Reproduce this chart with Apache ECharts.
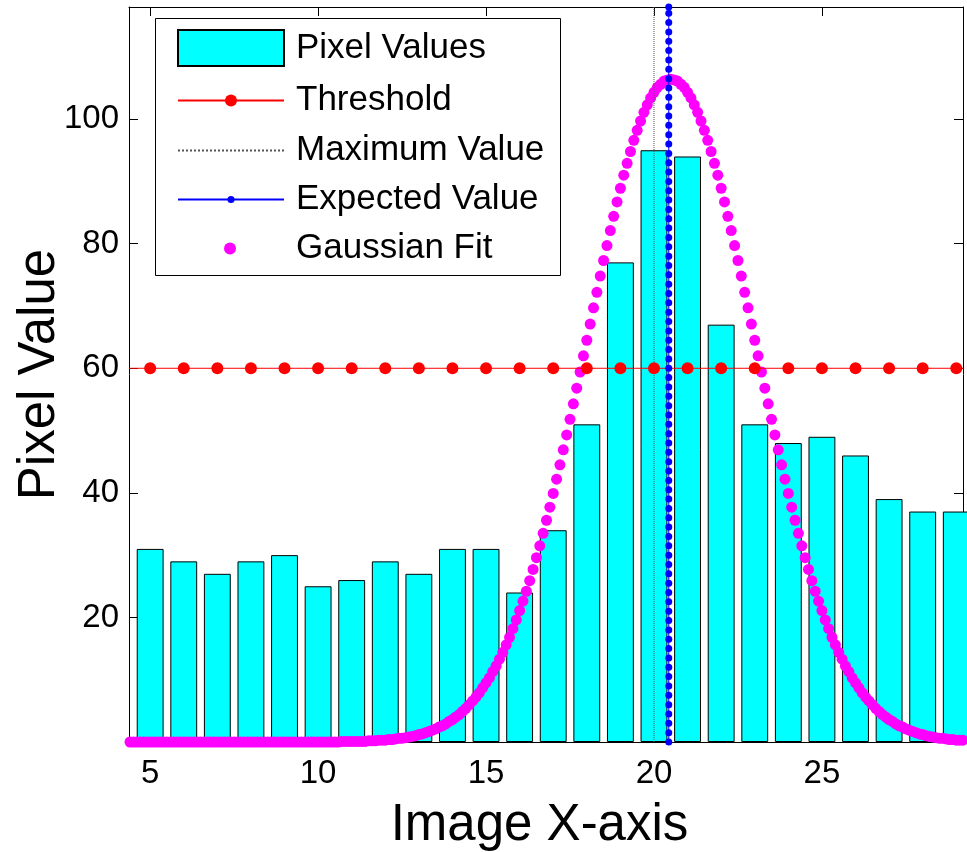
<!DOCTYPE html>
<html>
<head>
<meta charset="utf-8">
<title>Pixel Value profile</title>
<script src="https://cdn.jsdelivr.net/npm/echarts@6/dist/echarts.min.js"></script>
<style>
  html, body { margin: 0; padding: 0; background: #fff; }
  #chart { width: 967px; height: 852px; }
</style>
</head>
<body>
<div id="chart"></div>
<script>
// image columns and their pixel values (bars)
const xCategories = [5, 6, 7, 8, 9, 10, 11, 12, 13, 14, 15, 16, 17, 18, 19, 20, 21, 22, 23, 24, 25, 26, 27, 28, 29];
const pixelValues = [31, 29, 27, 29, 30, 25, 26, 29, 27, 31, 31, 24, 34, 51, 77, 95, 94, 67, 51, 48, 49, 46, 39, 37, 37];

// threshold level, maximum / expected value columns
const thresholdValue = 60;
const maxValueX = 20;
const expectedValueX = 20.44;
const expectedValueY = [0, 1.5, 3, 4.5, 6, 7.5, 9, 10.5, 12, 13.5, 15, 16.5, 18, 19.5, 21, 22.5, 24, 25.5, 27, 28.5,
  30, 31.5, 33, 34.5, 36, 37.5, 39, 40.5, 42, 43.5, 45, 46.5, 48, 49.5, 51, 52.5, 54, 55.5, 57, 58.5,
  60, 61.5, 63, 64.5, 66, 67.5, 69, 70.5, 72, 73.5, 75, 76.5, 78, 79.5, 81, 82.5, 84, 85.5, 87, 88.5,
  90, 91.5, 93, 94.5, 96, 97.5, 99, 100.5, 102, 103.5, 105, 106.5, 108, 109.5, 111, 112.5, 114, 115.5, 117, 118];

// gaussian fit samples, x = 4.4 .. 29.2 step 0.1
const gaussStartX = 4.4;
const gaussStepX = 0.1;
const gaussianFit = [
  0, 0, 0, 0, 0, 0, 0, 0, 0, 0, 0, 0, 0, 0, 0, 0, 0, 0, 0, 0, 0,
  0, 0, 0, 0, 0, 0, 0, 0, 0, 0, 0, 0, 0, 0, 0, 0, 0, 0, 0, 0, 0,
  0, 0, 0, 0, 0, 0, 0, 0, 0, 0, 0, 0, 0, 0, 0, 0, 0, 0, 0, 0, 0,
  0.1, 0.1, 0.1,
  0.1, 0.1, 0.1, 0.1, 0.1, 0.2, 0.2, 0.2, 0.3, 0.3,
  0.3, 0.4, 0.4, 0.5, 0.6, 0.6, 0.7, 0.8, 0.9, 1.0,
  1.2, 1.3, 1.5, 1.7, 1.9, 2.1, 2.4, 2.6, 2.9, 3.3,
  3.6, 4.0, 4.4, 4.9, 5.4, 6.0, 6.6, 7.2, 7.9, 8.7,
  9.5, 10.3, 11.3, 12.2, 13.3, 14.4, 15.6, 16.8, 18.2, 19.6,
  21.1, 22.6, 24.2, 25.9, 27.7, 29.6, 31.5, 33.5, 35.6, 37.7,
  39.9, 42.2, 44.5, 46.9, 49.3, 51.8, 54.3, 56.8, 59.4, 62.0,
  64.5, 67.1, 69.7, 72.2, 74.8, 77.3, 79.7, 82.1, 84.4, 86.7,
  88.9, 91.0, 92.9, 94.8, 96.6, 98.2, 99.7, 101.1, 102.3, 103.4,
  104.3, 105.1, 105.6, 106.1, 106.3, 106.4, 106.3, 106.1, 105.6, 105.1,
  104.3, 103.4, 102.3, 101.1, 99.7, 98.2, 96.6, 94.8, 92.9, 91.0,
  88.9, 86.7, 84.4, 82.1, 79.7, 77.3, 74.8, 72.2, 69.7, 67.1,
  64.5, 62.0, 59.4, 56.8, 54.3, 51.8, 49.3, 46.9, 44.5, 42.2,
  39.9, 37.7, 35.6, 33.5, 31.5, 29.6, 27.7, 25.9, 24.2, 22.6,
  21.1, 19.6, 18.2, 16.8, 15.6, 14.4, 13.3, 12.2, 11.3, 10.3,
  9.5, 8.7, 7.9, 7.2, 6.6, 6.0, 5.4, 4.9, 4.4, 4.0,
  3.6, 3.3, 2.9, 2.6, 2.4, 2.1, 1.9, 1.7, 1.5, 1.3,
  1.2, 1.0, 0.9, 0.8, 0.7, 0.6, 0.6, 0.5, 0.4, 0.4,
  0.3, 0.3, 0.3
];

// axes
const xRange = [4.37, 29.2];
const yRange = [0, 118];
const xTicks = [5, 10, 15, 20, 25];
const yTicks = [20, 40, 60, 80, 100];

const FONT = '"Liberation Sans", Arial, sans-serif';

const chart = echarts.init(document.getElementById('chart'));

const axisLine = { show: true, onZero: false, lineStyle: { color: '#000', width: 1 } };

// one legend component per row so every row gets its own icon size
function legendRow(item, left, top, itemWidth, itemHeight, textPad, extra) {
  return Object.assign({
    data: [item],
    left: left,
    top: top,
    orient: 'vertical',
    padding: 0,
    itemWidth: itemWidth,
    itemHeight: itemHeight,
    selectedMode: false,
    textStyle: { fontSize: 35, fontFamily: FONT, color: '#000', padding: [0, 0, 0, textPad] }
  }, extra || {});
}

const option = {
  animation: false,
  backgroundColor: '#fff',
  grid: { left: 129, right: 4, top: 7, bottom: 110, containLabel: false, outerBoundsMode: 'none' },
  xAxis: [
    {
      type: 'value',
      position: 'bottom',
      min: xRange[0],
      max: xRange[1],
      axisLine: axisLine,
      axisTick: { show: true, inside: true, length: 9, customValues: xTicks, lineStyle: { color: '#000' } },
      axisLabel: { customValues: xTicks, fontSize: 33, fontFamily: FONT, color: '#000', margin: 15 },
      splitLine: { show: false },
      name: 'Image X-axis',
      nameLocation: 'middle',
      nameGap: 58,
      nameMoveOverlap: false,
      nameTextStyle: { fontSize: 51, fontFamily: FONT, color: '#000', padding: [0, 13, 0, 0] }
    },
    {
      type: 'value',
      position: 'top',
      min: xRange[0],
      max: xRange[1],
      axisLine: axisLine,
      axisTick: { show: true, inside: true, length: 9, customValues: xTicks, lineStyle: { color: '#000' } },
      axisLabel: { show: false },
      splitLine: { show: false }
    }
  ],
  yAxis: [
    {
      type: 'value',
      position: 'left',
      min: yRange[0],
      max: yRange[1],
      axisLine: axisLine,
      axisTick: { show: true, inside: true, length: 9, customValues: yTicks, lineStyle: { color: '#000' } },
      axisLabel: { customValues: yTicks, fontSize: 33, fontFamily: FONT, color: '#000', margin: 10 },
      splitLine: { show: false },
      name: 'Pixel Value',
      nameLocation: 'middle',
      nameGap: 64,
      nameMoveOverlap: false,
      nameTextStyle: { fontSize: 51, fontFamily: FONT, color: '#000' }
    },
    {
      type: 'value',
      position: 'right',
      min: yRange[0],
      max: yRange[1],
      axisLine: axisLine,
      axisTick: { show: true, inside: true, length: 9, customValues: yTicks, lineStyle: { color: '#000' } },
      axisLabel: { show: false },
      splitLine: { show: false }
    }
  ],
  legend: [
    legendRow({ name: 'Pixel Values', icon: 'rect' }, 177, 29, 106, 36, 7),
    legendRow('Threshold', 177, 83, 106, 15, 7),
    legendRow('Maximum Value', 177, 133, 106, 15, 7,
      { itemStyle: { color: 'rgba(0,0,0,0)', borderWidth: 0 } }),
    legendRow('Expected Value', 177, 182, 106, 9, 7),
    legendRow('Gaussian Fit', 224, 231, 12, 12, 55)
  ],
  graphic: [
    {
      type: 'rect',
      z: 3,
      shape: { x: 155.5, y: 18.5, width: 405, height: 257 },
      style: { fill: '#fff', stroke: '#000', lineWidth: 1 }
    }
  ],
  series: [
    {
      name: 'Pixel Values',
      type: 'bar',
      barWidth: '80%',
      data: xCategories.map((x, i) => [x, pixelValues[i]]),
      itemStyle: { color: '#00ffff', borderColor: '#000', borderWidth: 1 }
    },
    {
      name: 'Threshold',
      type: 'line',
      symbol: 'circle',
      symbolSize: 12,
      showAllSymbol: true,
      color: '#ff0000',
      lineStyle: { color: '#ff0000', width: 1 },
      data: [{ value: [xRange[0], thresholdValue], symbol: 'none' }]
        .concat(xCategories.map(x => [x, thresholdValue]))
        .concat([{ value: [xRange[1], thresholdValue], symbol: 'none' }])
    },
    {
      name: 'Gaussian Fit',
      type: 'scatter',
      symbol: 'circle',
      symbolSize: 11,
      color: '#ff00ff',
      itemStyle: { color: '#ff00ff', opacity: 1 },
      data: gaussianFit.map((y, i) => [+(gaussStartX + i * gaussStepX).toFixed(1), y])
    },
    {
      name: 'Maximum Value',
      type: 'line',
      symbol: 'none',
      color: '#555',
      lineStyle: { color: '#555', width: 1, type: 'dotted' },
      data: [[maxValueX, yRange[0]], [maxValueX, yRange[1]]]
    },
    {
      name: 'Expected Value',
      type: 'line',
      symbol: 'circle',
      symbolSize: 7,
      showAllSymbol: true,
      color: '#0000ff',
      lineStyle: { color: '#0000ff', width: 1 },
      data: expectedValueY.map(y => [expectedValueX, y])
    }
  ]
};

chart.setOption(option);
</script>
</body>
</html>
